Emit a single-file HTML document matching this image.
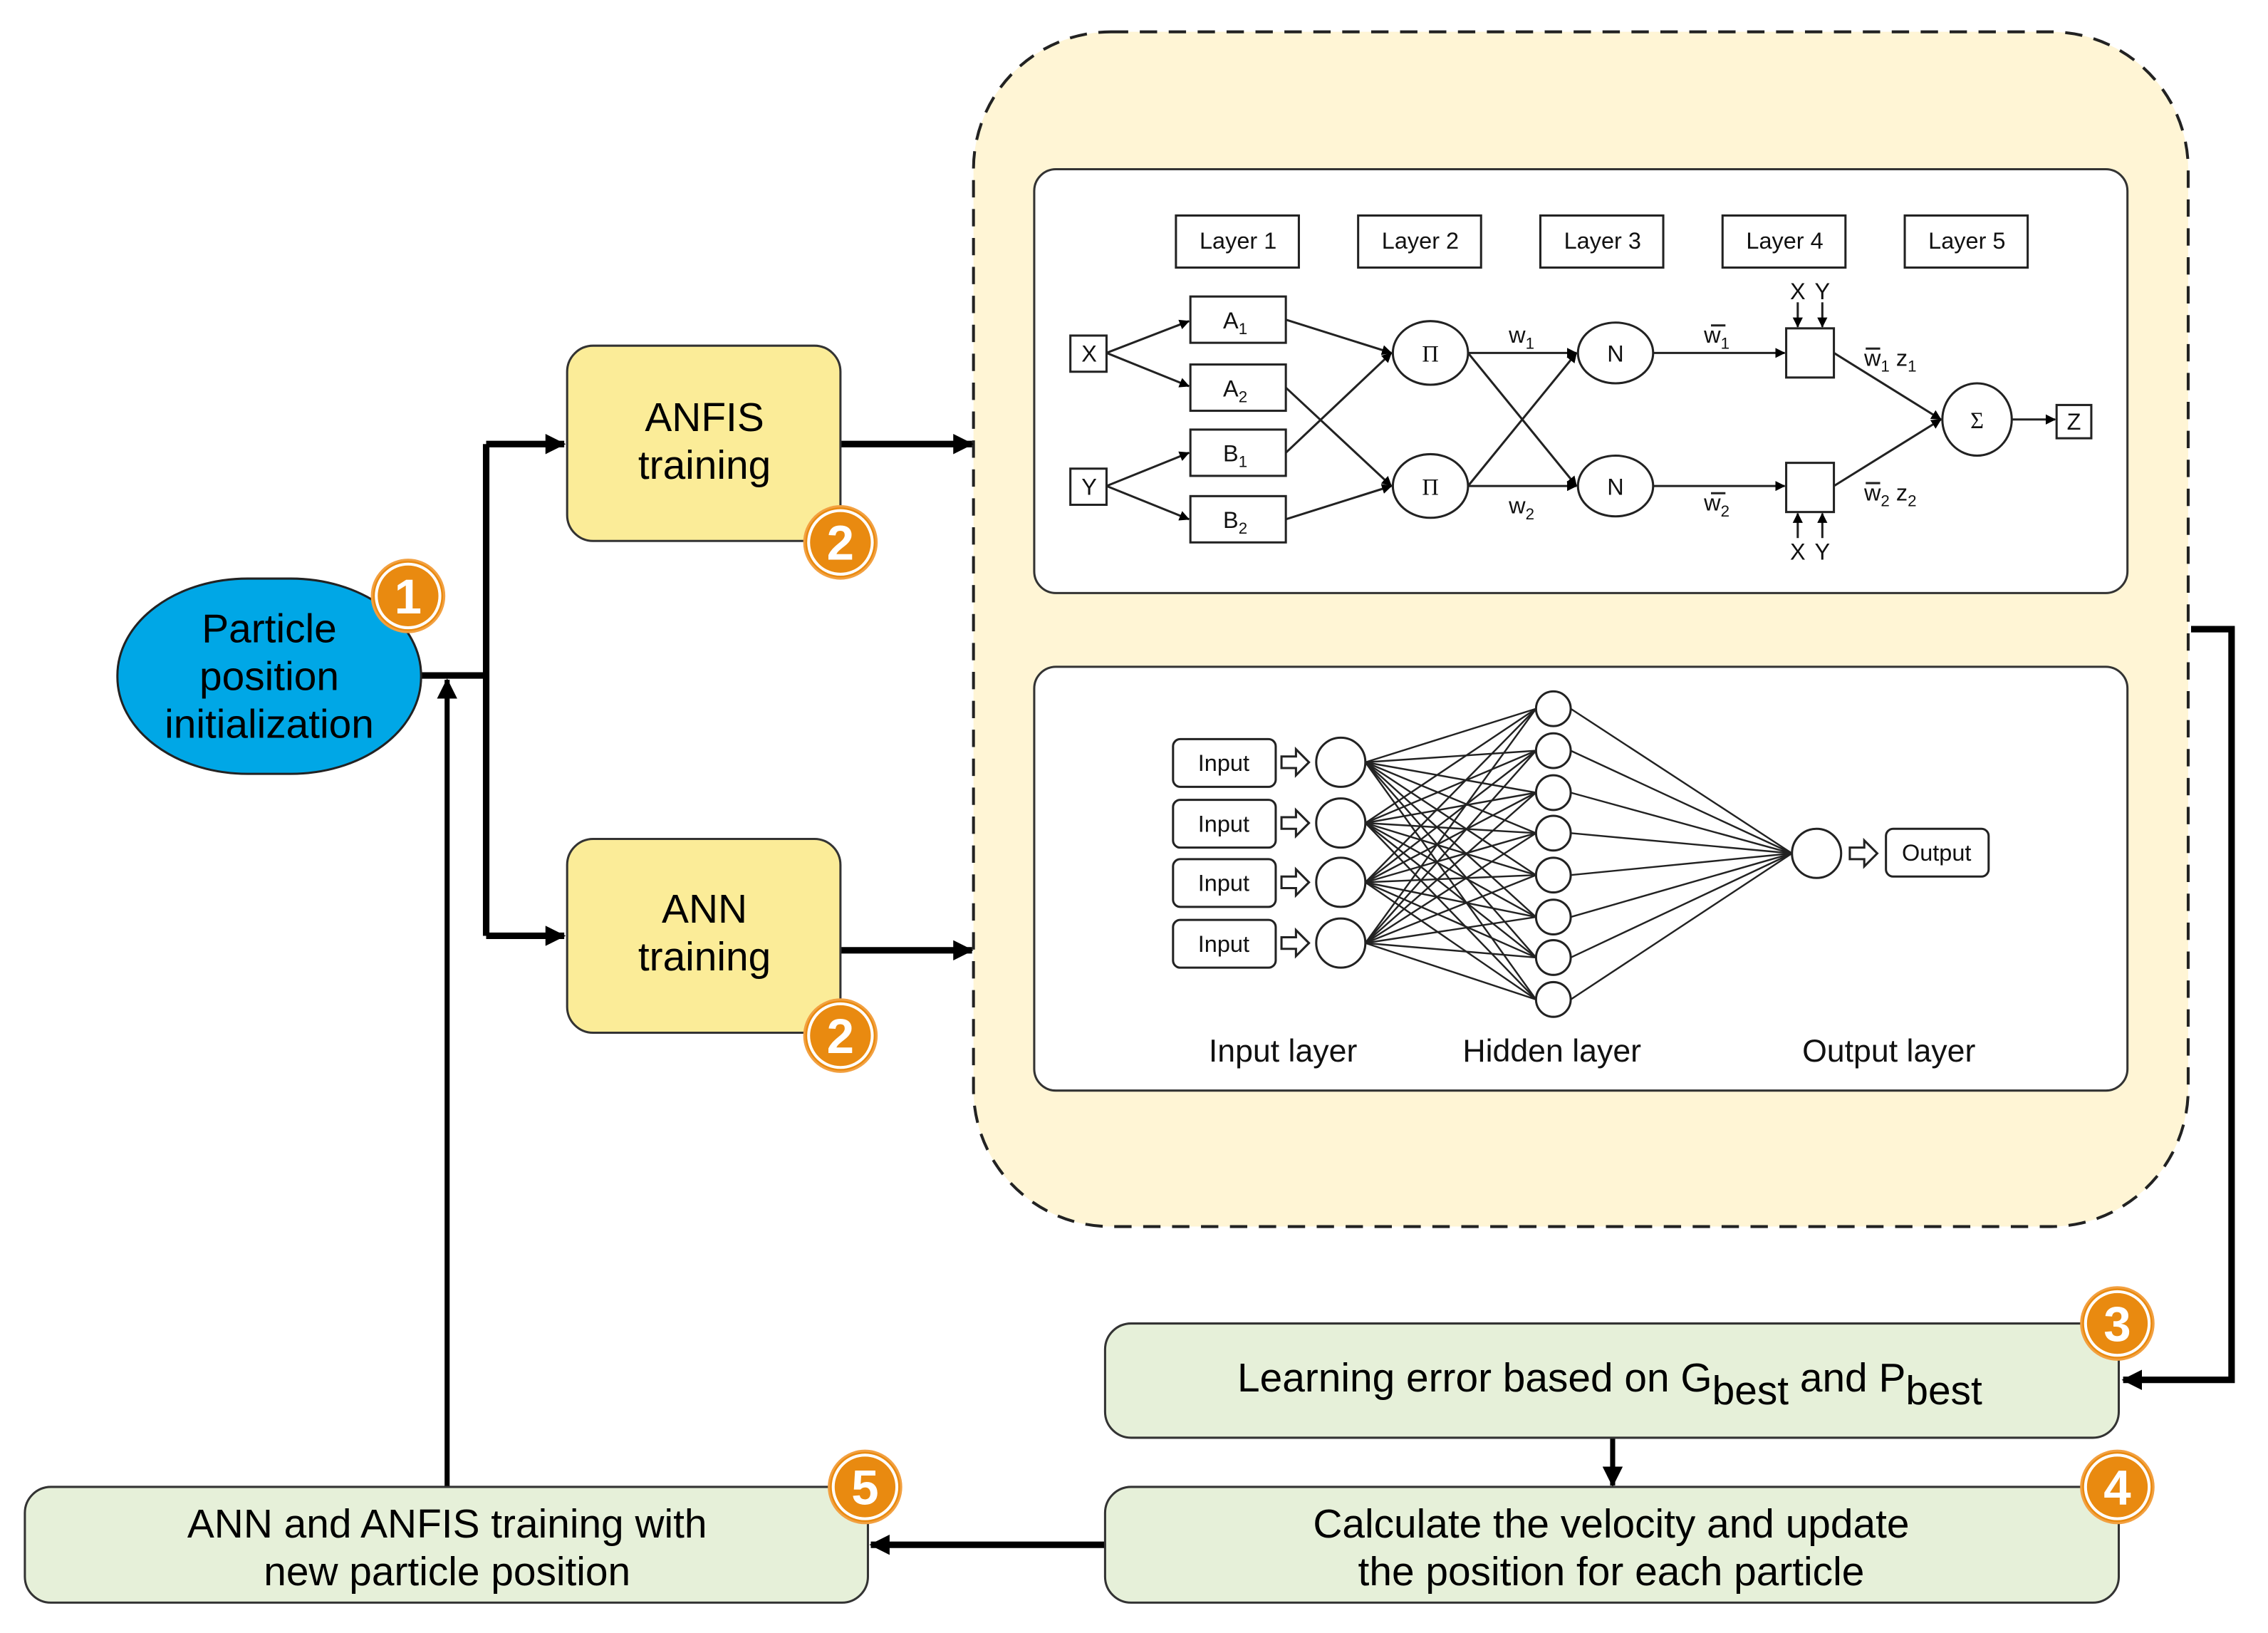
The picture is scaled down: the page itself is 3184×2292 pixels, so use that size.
<!DOCTYPE html>
<html><head><meta charset="utf-8"><style>html,body{margin:0;padding:0;background:#fff}svg{display:block}</style></head>
<body>
<svg xmlns="http://www.w3.org/2000/svg" width="3184" height="2292" viewBox="0 0 1568 1129" font-family="Liberation Sans, Arial, sans-serif">
<defs>
<marker id="ah" markerWidth="10" markerHeight="10" refX="9" refY="5" orient="auto" markerUnits="userSpaceOnUse"><path d="M0,0 L10,5 L0,10 Z" fill="#000"/></marker>
<marker id="ab" markerWidth="14" markerHeight="14" refX="13" refY="7" orient="auto" markerUnits="userSpaceOnUse"><path d="M0,0 L14,7 L0,14 Z" fill="#000"/></marker>
<marker id="as" markerWidth="7" markerHeight="7" refX="6.5" refY="3.5" orient="auto" markerUnits="userSpaceOnUse"><path d="M0,0 L7,3.5 L0,7 Z" fill="#000"/></marker>
</defs>
<rect width="1568" height="1129" fill="#fff"/>
<!-- big dashed container -->
<rect x="673" y="22" width="840" height="826" rx="95" fill="#fff5d5" stroke="#222" stroke-width="2" stroke-dasharray="12,8"/>
<rect x="715" y="117" width="756" height="293" rx="15" fill="#fff" stroke="#333" stroke-width="1.5"/>
<rect x="715" y="461" width="756" height="293" rx="15" fill="#fff" stroke="#333" stroke-width="1.5"/>

<!-- connectors -->
<g stroke="#000" stroke-width="4.5" fill="none">
<polyline points="291,467 336,467"/>
<polyline points="336,307 336,647"/>
<line x1="336" y1="307" x2="390" y2="307" marker-end="url(#ab)"/>
<line x1="336" y1="647" x2="390" y2="647" marker-end="url(#ab)"/>
<line x1="581" y1="307" x2="672" y2="307" marker-end="url(#ab)"/>
<line x1="581" y1="657" x2="672" y2="657" marker-end="url(#ab)"/>
<polyline points="1515,435 1543,435 1543,954 1468,954" marker-end="url(#ab)"/>
<line x1="764" y1="1068" x2="602" y2="1068" marker-end="url(#ab)"/>
</g>
<g stroke="#000" stroke-width="3.5" fill="none">
<line x1="1115" y1="994" x2="1115" y2="1027" marker-end="url(#ab)"/>
<line x1="309" y1="1028" x2="309" y2="470" marker-end="url(#ab)"/>
</g>

<!-- left nodes -->
<rect x="81" y="400" width="210" height="135" rx="90" ry="67" fill="#00a7e6" stroke="#222" stroke-width="1.5"/>
<text x="186" y="444" font-size="28" text-anchor="middle">Particle</text>
<text x="186" y="477" font-size="28" text-anchor="middle">position</text>
<text x="186" y="510" font-size="28" text-anchor="middle">initialization</text>

<rect x="392" y="239" width="189" height="135" rx="18" fill="#fbec98" stroke="#333" stroke-width="1.5"/>
<text x="487" y="298" font-size="28" text-anchor="middle">ANFIS</text>
<text x="487" y="331" font-size="28" text-anchor="middle">training</text>
<rect x="392" y="580" width="189" height="134" rx="18" fill="#fbec98" stroke="#333" stroke-width="1.5"/>
<text x="487" y="638" font-size="28" text-anchor="middle">ANN</text>
<text x="487" y="671" font-size="28" text-anchor="middle">training</text>

<rect x="764" y="915" width="701" height="79" rx="18" fill="#e6f0d9" stroke="#333" stroke-width="1.5"/>
<text x="1113" y="962" font-size="28" text-anchor="middle">Learning error based on G<tspan font-size="28" dy="9">best</tspan><tspan dy="-9"> and P</tspan><tspan dy="9">best</tspan></text>
<rect x="764" y="1028" width="701" height="80" rx="18" fill="#e6f0d9" stroke="#333" stroke-width="1.5"/>
<text x="1114" y="1063" font-size="28" text-anchor="middle">Calculate the velocity and update</text>
<text x="1114" y="1096" font-size="28" text-anchor="middle">the position for each particle</text>
<rect x="17" y="1028" width="583" height="80" rx="18" fill="#e6f0d9" stroke="#333" stroke-width="1.5"/>
<text x="309" y="1063" font-size="28" text-anchor="middle">ANN and ANFIS training with</text>
<text x="309" y="1096" font-size="28" text-anchor="middle">new particle position</text>

<!-- badges -->
<g font-size="34" font-weight="bold" fill="#fff" text-anchor="middle">
<g><circle cx="282" cy="412" r="25" fill="#e98a10" stroke="#f2a040" stroke-width="1.5"/><circle cx="282" cy="412" r="22" fill="none" stroke="#fff" stroke-width="2"/><text x="282" y="424">1</text></g>
<g><circle cx="581" cy="375" r="25" fill="#e98a10" stroke="#f2a040" stroke-width="1.5"/><circle cx="581" cy="375" r="22" fill="none" stroke="#fff" stroke-width="2"/><text x="581" y="387">2</text></g>
<g><circle cx="581" cy="716" r="25" fill="#e98a10" stroke="#f2a040" stroke-width="1.5"/><circle cx="581" cy="716" r="22" fill="none" stroke="#fff" stroke-width="2"/><text x="581" y="728">2</text></g>
<g><circle cx="1464" cy="915" r="25" fill="#e98a10" stroke="#f2a040" stroke-width="1.5"/><circle cx="1464" cy="915" r="22" fill="none" stroke="#fff" stroke-width="2"/><text x="1464" y="927">3</text></g>
<g><circle cx="1464" cy="1028" r="25" fill="#e98a10" stroke="#f2a040" stroke-width="1.5"/><circle cx="1464" cy="1028" r="22" fill="none" stroke="#fff" stroke-width="2"/><text x="1464" y="1040">4</text></g>
<g><circle cx="598" cy="1028" r="25" fill="#e98a10" stroke="#f2a040" stroke-width="1.5"/><circle cx="598" cy="1028" r="22" fill="none" stroke="#fff" stroke-width="2"/><text x="598" y="1040">5</text></g>
</g>

<!-- ANFIS diagram -->
<g fill="#fff" stroke="#222" stroke-width="1.5">
<rect x="813" y="149" width="85" height="36"/><rect x="939" y="149" width="85" height="36"/><rect x="1065" y="149" width="85" height="36"/><rect x="1191" y="149" width="85" height="36"/><rect x="1317" y="149" width="85" height="36"/>
<rect x="740" y="232" width="25" height="25"/><rect x="740" y="324" width="25" height="25"/>
<rect x="823" y="205" width="66" height="32"/><rect x="823" y="252" width="66" height="32"/><rect x="823" y="297" width="66" height="32"/><rect x="823" y="343" width="66" height="32"/>
<ellipse cx="989" cy="244" rx="26" ry="22"/><ellipse cx="989" cy="336" rx="26" ry="22"/>
<ellipse cx="1117" cy="244" rx="26" ry="21"/><ellipse cx="1117" cy="336" rx="26" ry="21"/>
<rect x="1235" y="227" width="33" height="34"/><rect x="1235" y="320" width="33" height="34"/>
<ellipse cx="1367" cy="290" rx="24" ry="25"/>
<rect x="1422" y="280" width="24" height="23"/>
</g>
<g stroke="#222" stroke-width="1.5" fill="none">
<line x1="765" y1="244" x2="822" y2="222" marker-end="url(#as)"/>
<line x1="765" y1="244" x2="822" y2="267" marker-end="url(#as)"/>
<line x1="765" y1="336" x2="822" y2="313" marker-end="url(#as)"/>
<line x1="765" y1="336" x2="822" y2="359" marker-end="url(#as)"/>
<line x1="889" y1="221" x2="962" y2="244" marker-end="url(#as)"/>
<line x1="889" y1="268" x2="962" y2="336" marker-end="url(#as)"/>
<line x1="889" y1="313" x2="962" y2="244" marker-end="url(#as)"/>
<line x1="889" y1="359" x2="962" y2="336" marker-end="url(#as)"/>
<line x1="1015" y1="244" x2="1090" y2="244" marker-end="url(#as)"/>
<line x1="1015" y1="244" x2="1090" y2="336" marker-end="url(#as)"/>
<line x1="1015" y1="336" x2="1090" y2="244" marker-end="url(#as)"/>
<line x1="1015" y1="336" x2="1090" y2="336" marker-end="url(#as)"/>
<line x1="1143" y1="244" x2="1234" y2="244" marker-end="url(#as)"/>
<line x1="1143" y1="336" x2="1234" y2="336" marker-end="url(#as)"/>
<line x1="1268" y1="244" x2="1342" y2="290" marker-end="url(#as)"/>
<line x1="1268" y1="336" x2="1342" y2="290" marker-end="url(#as)"/>
<line x1="1391" y1="290" x2="1421" y2="290" marker-end="url(#as)"/>
<line x1="1243" y1="209" x2="1243" y2="226" marker-end="url(#as)"/>
<line x1="1260" y1="209" x2="1260" y2="226" marker-end="url(#as)"/>
<line x1="1243" y1="372" x2="1243" y2="355" marker-end="url(#as)"/>
<line x1="1260" y1="372" x2="1260" y2="355" marker-end="url(#as)"/>
<line x1="1183" y1="225" x2="1193" y2="225"/><line x1="1183" y1="341" x2="1193" y2="341"/>
<line x1="1290" y1="241" x2="1300" y2="241"/><line x1="1290" y1="334" x2="1300" y2="334"/>
</g>
<g font-size="16" text-anchor="middle" fill="#111">
<text x="856" y="172">Layer 1</text><text x="982" y="172">Layer 2</text><text x="1108" y="172">Layer 3</text><text x="1234" y="172">Layer 4</text><text x="1360" y="172">Layer 5</text>
<text x="753" y="250">X</text><text x="753" y="342">Y</text>
<text x="854" y="227">A<tspan font-size="11" dy="4">1</tspan></text>
<text x="854" y="274">A<tspan font-size="11" dy="4">2</tspan></text>
<text x="854" y="319">B<tspan font-size="11" dy="4">1</tspan></text>
<text x="854" y="365">B<tspan font-size="11" dy="4">2</tspan></text>
<text x="989" y="250" font-family="Liberation Serif, serif">Π</text><text x="989" y="342" font-family="Liberation Serif, serif">Π</text>
<text x="1117" y="250">N</text><text x="1117" y="342">N</text>
<text x="1367" y="296" font-family="Liberation Serif, serif">Σ</text>
<text x="1434" y="297">Z</text>
<text x="1052" y="237">w<tspan font-size="11" dy="4">1</tspan></text>
<text x="1052" y="355">w<tspan font-size="11" dy="4">2</tspan></text>
<text x="1187" y="237">w<tspan font-size="11" dy="4">1</tspan></text>
<text x="1187" y="353">w<tspan font-size="11" dy="4">2</tspan></text>
<text x="1307" y="253">w<tspan font-size="11" dy="4">1</tspan><tspan dy="-4"> z</tspan><tspan font-size="11" dy="4">1</tspan></text>
<text x="1307" y="346">w<tspan font-size="11" dy="4">2</tspan><tspan dy="-4"> z</tspan><tspan font-size="11" dy="4">2</tspan></text>
<text x="1243" y="207">X</text><text x="1260" y="207">Y</text>
<text x="1243" y="387">X</text><text x="1260" y="387">Y</text>
</g>

<!-- ANN diagram -->
<g stroke="#222" stroke-width="1.2">
<line x1="944" y1="527" x2="1062" y2="490"/><line x1="944" y1="527" x2="1062" y2="519"/><line x1="944" y1="527" x2="1062" y2="548"/><line x1="944" y1="527" x2="1062" y2="576"/><line x1="944" y1="527" x2="1062" y2="605"/><line x1="944" y1="527" x2="1062" y2="634"/><line x1="944" y1="527" x2="1062" y2="662"/><line x1="944" y1="527" x2="1062" y2="691"/>
<line x1="944" y1="569" x2="1062" y2="490"/><line x1="944" y1="569" x2="1062" y2="519"/><line x1="944" y1="569" x2="1062" y2="548"/><line x1="944" y1="569" x2="1062" y2="576"/><line x1="944" y1="569" x2="1062" y2="605"/><line x1="944" y1="569" x2="1062" y2="634"/><line x1="944" y1="569" x2="1062" y2="662"/><line x1="944" y1="569" x2="1062" y2="691"/>
<line x1="944" y1="610" x2="1062" y2="490"/><line x1="944" y1="610" x2="1062" y2="519"/><line x1="944" y1="610" x2="1062" y2="548"/><line x1="944" y1="610" x2="1062" y2="576"/><line x1="944" y1="610" x2="1062" y2="605"/><line x1="944" y1="610" x2="1062" y2="634"/><line x1="944" y1="610" x2="1062" y2="662"/><line x1="944" y1="610" x2="1062" y2="691"/>
<line x1="944" y1="652" x2="1062" y2="490"/><line x1="944" y1="652" x2="1062" y2="519"/><line x1="944" y1="652" x2="1062" y2="548"/><line x1="944" y1="652" x2="1062" y2="576"/><line x1="944" y1="652" x2="1062" y2="605"/><line x1="944" y1="652" x2="1062" y2="634"/><line x1="944" y1="652" x2="1062" y2="662"/><line x1="944" y1="652" x2="1062" y2="691"/>
<line x1="1086" y1="490" x2="1239" y2="590"/><line x1="1086" y1="519" x2="1239" y2="590"/><line x1="1086" y1="548" x2="1239" y2="590"/><line x1="1086" y1="576" x2="1239" y2="590"/><line x1="1086" y1="605" x2="1239" y2="590"/><line x1="1086" y1="634" x2="1239" y2="590"/><line x1="1086" y1="662" x2="1239" y2="590"/><line x1="1086" y1="691" x2="1239" y2="590"/>
</g>
<g fill="#fff" stroke="#222" stroke-width="1.5">
<rect x="811" y="511" width="71" height="33" rx="5"/><rect x="811" y="553" width="71" height="33" rx="5"/><rect x="811" y="594" width="71" height="33" rx="5"/><rect x="811" y="636" width="71" height="33" rx="5"/>
<ellipse cx="927" cy="527" rx="17" ry="17"/><ellipse cx="927" cy="569" rx="17" ry="17"/><ellipse cx="927" cy="610" rx="17" ry="17"/><ellipse cx="927" cy="652" rx="17" ry="17"/>
<circle cx="1074" cy="490" r="12"/><circle cx="1074" cy="519" r="12"/><circle cx="1074" cy="548" r="12"/><circle cx="1074" cy="576" r="12"/><circle cx="1074" cy="605" r="12"/><circle cx="1074" cy="634" r="12"/><circle cx="1074" cy="662" r="12"/><circle cx="1074" cy="691" r="12"/>
<ellipse cx="1256" cy="590" rx="17" ry="17"/>
<rect x="1304" y="573" width="71" height="33" rx="5"/>
<path d="M886,523 h10 v-5 l9,9 l-9,9 v-5 h-10 Z"/>
<path d="M886,565 h10 v-5 l9,9 l-9,9 v-5 h-10 Z"/>
<path d="M886,606 h10 v-5 l9,9 l-9,9 v-5 h-10 Z"/>
<path d="M886,648 h10 v-5 l9,9 l-9,9 v-5 h-10 Z"/>
<path d="M1279,586 h10 v-5 l9,9 l-9,9 v-5 h-10 Z"/>
</g>
<g font-size="16" text-anchor="middle" fill="#111">
<text x="846" y="533">Input</text><text x="846" y="575">Input</text><text x="846" y="616">Input</text><text x="846" y="658">Input</text>
<text x="1339" y="595">Output</text>
</g>
<g font-size="22" text-anchor="middle" fill="#111">
<text x="887" y="734">Input layer</text><text x="1073" y="734">Hidden layer</text><text x="1306" y="734">Output layer</text>
</g>
</svg>
</body></html>
